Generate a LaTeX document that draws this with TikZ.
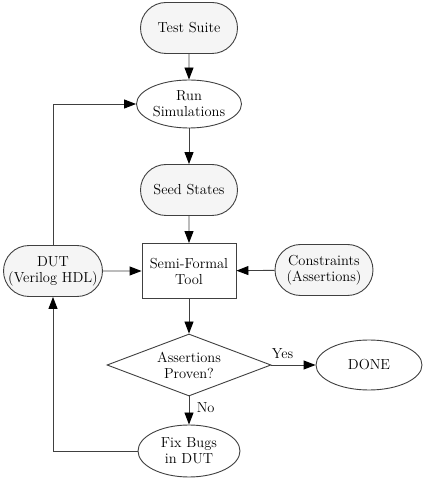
\documentclass[tikz,border=0pt]{standalone}
\usetikzlibrary{shapes.geometric,shapes.misc,arrows.meta}
\definecolor{ln}{HTML}{404040}
\definecolor{fl}{HTML}{F5F5F5}
\begin{document}
\begin{tikzpicture}[x=1pt,y=1pt,
  every node/.style={font=\fontsize{14.5}{16}\selectfont, align=center, text=black},
  base/.style={draw=ln, line width=0.9pt, inner sep=0pt},
  stadium/.style={base, rounded rectangle, fill=fl, minimum width=97pt, minimum height=51pt},
  oval/.style={base, ellipse, fill=white},
  boxnode/.style={base, rectangle, fill=white, minimum width=94pt, minimum height=55pt},
  decision/.style={base, diamond, aspect=2.6, fill=white, minimum width=164pt, minimum height=62pt},
  conn/.style={draw=ln, line width=0.9pt, -{Triangle[length=12pt,width=9pt,color=black]}},
  lbl/.style={font=\fontsize{14.5}{16}\selectfont}
]
\useasboundingbox (0,0) rectangle (425,480);
\node[stadium] (ts) at (189,452) {Test Suite};
\node[oval, minimum width=105pt, minimum height=48pt] (rs) at (189,376) {Run\\Simulations};
\node[stadium] (ss) at (189,290) {Seed States};
\node[boxnode] (sf) at (189,209) {Semi-Formal\\Tool};
\node[stadium, minimum width=98pt] (dut) at (53,209) {DUT\\(Verilog HDL)};
\node[stadium, minimum width=98pt] (con) at (324,210) {Constraints\\(Assertions)};
\node[decision] (ap) at (189,115) {Assertions\\Proven?};
\node[oval, minimum width=106pt, minimum height=50pt] (done) at (369,115) {DONE};
\node[oval, minimum width=102pt, minimum height=52pt] (fb) at (189,29) {Fix Bugs\\in DUT};

\draw[conn] (ts) -- (rs);
\draw[conn] (rs) -- (ss);
\draw[conn] (ss) -- (sf);
\draw[conn] (dut) -- (sf);
\draw[conn] (con) -- (sf);
\draw[conn] (sf) -- (ap);
\draw[conn] (ap.east) -- node[lbl, above, pos=0.25, yshift=3pt] {Yes} (done.west);
\draw[conn] (ap.south) -- node[lbl, right, pos=0.4, xshift=4pt] {No} (fb.north);
\draw[conn] (fb.west) -| (dut.south);
\draw[conn] (dut.north) |- (rs.west);
\end{tikzpicture}
\end{document}
